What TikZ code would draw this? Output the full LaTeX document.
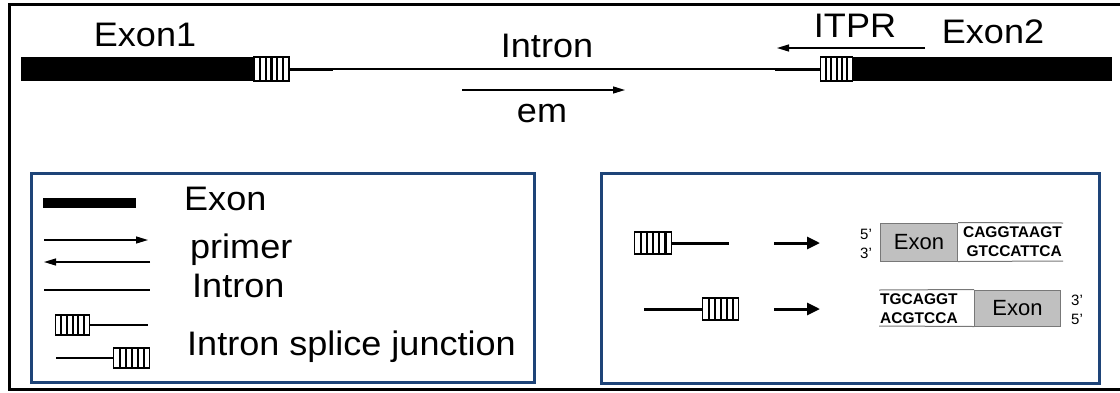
\documentclass[tikz,border=0pt]{standalone}
\usepackage{fontspec}
\setmainfont{Liberation Sans}
\newfontfamily\widefont[FakeStretch=1.06]{Liberation Sans}
\usetikzlibrary{arrows.meta,calc}
\definecolor{boxblue}{RGB}{30,68,120}
\definecolor{exgray}{RGB}{192,192,192}
\definecolor{exedge}{RGB}{120,120,120}
\begin{document}
\begin{tikzpicture}[x=1pt,y=-1pt,
  exonbar/.style={rectangle, fill=black, draw=none, inner sep=0, anchor=west, minimum height=24pt},
  hatch/.style 2 args={rectangle, draw, line width=1.2pt, fill=white, inner sep=0, anchor=west,
     minimum width=#1, minimum height=#2,
     path picture={\foreach \k in {1,...,5}{\draw[line width=2.2pt]
        ($(path picture bounding box.south west)!{\k/6}!(path picture bounding box.south east)$) --
        ($(path picture bounding box.north west)!{\k/6}!(path picture bounding box.north east)$);}}},
  thinline/.style={line width=1.3pt},
  jline/.style={line width=3pt},
  primer/.style={line width=1.3pt, -{Triangle[length=12pt,width=7pt]}},
  bigarrow/.style={line width=3pt, -{Triangle[length=13pt,width=12pt]}},
  bigtext/.style={font=\widefont\fontsize{34}{40}\selectfont, inner sep=0},
  legtext/.style={font=\widefont\fontsize{34}{40}\selectfont, inner sep=0, anchor=base west},
  legbox/.style={rectangle, draw=boxblue, line width=2.5pt, anchor=north west, inner sep=0},
  exonbox/.style={rectangle, fill=exgray, draw=exedge, line width=1pt, inner sep=0,
     font=\fontsize{22}{26}\selectfont},
  seqtext/.style={font=\bfseries\fontsize{15.5}{18}\selectfont, inner sep=0},
  primelab/.style={font=\fontsize{15}{18}\selectfont, inner sep=0}]
\clip (0,0) rectangle (1120,392);
\useasboundingbox (0,0) rectangle (1120,392);
\fill[white] (0,0) rectangle (1120,392);
% outer frame
\draw[line width=3pt] (1130,4) -- (9,4) -- (9,389) -- (1130,389);

% ---- gene structure ----
\node[exonbar, minimum width=232pt] (ex1) at (21,69) {};
\node[hatch={35pt}{24pt}] (h1) at (ex1.east) {};
\coordinate (j1) at (333,69);
\coordinate (j2) at (775,69);
\node[hatch={32pt}{24pt}] (h2) at (820,69) {};
\node[exonbar, minimum width=259pt] (ex2) at (h2.east) {};
\draw[jline] (h1.east) -- (j1);
\draw[thinline] (j1) -- (j2);
\draw[jline] (j2) -- (h2.west);

\node[bigtext] (tex1) at (145,35) {Exon1};
\node[bigtext] (tintron) at (547,46) {Intron};
\node[bigtext] (titpr) at (855,26) {ITPR};
\node[bigtext] (tex2) at (993,32) {Exon2};
\node[bigtext] (tem) at (542,114) {em};

\coordinate (ems) at (462,90);
\coordinate (eme) at (625,90);
\draw[primer] (ems) -- (eme);
\coordinate (its) at (925,48);
\coordinate (ite) at (777,48);
\draw[primer] (its) -- (ite);

% ---- legend box ----
\node[legbox, minimum width=503pt, minimum height=209pt] (lbox) at (30,172) {};
\node[exonbar, minimum width=93pt, minimum height=10pt] (lex) at (43,203) {};
\node[legtext] (tlex) at (184,210) {Exon};
\coordinate (p1s) at (44,240);
\coordinate (p1e) at (148,240);
\draw[primer] (p1s) -- (p1e);
\coordinate (p2s) at (150,262);
\coordinate (p2e) at (44,262);
\draw[primer] (p2s) -- (p2e);
\node[legtext] (tprimer) at (190,258) {primer};
\coordinate (li1) at (44,290);
\coordinate (li2) at (150,290);
\draw[thinline] (li1) -- (li2);
\node[legtext] (tlint) at (192,297) {Intron};
\node[hatch={34pt}{20pt}] (lh1) at (55,325) {};
\coordinate (lh1e) at (148,325);
\draw[jline, line width=2.5pt] (lh1.east) -- (lh1e);
\coordinate (lh2s) at (56,358);
\node[hatch={36pt}{20pt}] (lh2) at (113,358) {};
\draw[jline, line width=2.5pt] (lh2s) -- (lh2.west);
\node[legtext] (tsplice) at (187,355) {Intron splice junction};

% ---- right box ----
\node[legbox, minimum width=498pt, minimum height=210pt] (rbox) at (600,172) {};
\node[hatch={37pt}{22pt}] (rh1) at (634,243) {};
\coordinate (rl1) at (729,243);
\draw[jline] (rh1.east) -- (rl1);
\coordinate (ra1s) at (774,243);
\coordinate (ra1e) at (820,243);
\draw[bigarrow] (ra1s) -- (ra1e);
\node[primelab] (p5a) at (866,234) {5'};
\node[primelab] (p3a) at (866,253) {3'};
\node[exonbox, minimum width=77pt, minimum height=38pt, anchor=west] (gb1) at (880,242) {Exon};
\coordinate (s1t) at (1063,223);
\coordinate (s1b) at (1063,261);
\draw[exedge, line width=1pt] (gb1.north east) -- (s1t);
\draw[exedge, line width=1pt] (gb1.south east) -- (s1b);
\node[seqtext, anchor=east] (sq1) at (1062,232) {CAGGTAAGT};
\node[seqtext, anchor=east] (sq2) at (1062,251) {GTCCATTCA};

\coordinate (rl2) at (644,309);
\node[hatch={36pt}{22pt}] (rh2) at (702,309) {};
\draw[jline] (rl2) -- (rh2.west);
\coordinate (ra2s) at (774,309);
\coordinate (ra2e) at (820,309);
\draw[bigarrow] (ra2s) -- (ra2e);
\node[exonbox, minimum width=86pt, minimum height=36pt, anchor=west] (gb2) at (974,308) {Exon};
\coordinate (s2t) at (879,290);
\coordinate (s2b) at (879,326);
\draw[exedge, line width=1pt] (s2t) -- (gb2.north west);
\draw[exedge, line width=1pt] (s2b) -- (gb2.south west);
\node[seqtext, anchor=west] (sq3) at (880,299) {TGCAGGT};
\node[seqtext, anchor=west] (sq4) at (880,318) {ACGTCCA};
\node[primelab] (p3b) at (1077,300) {3'};
\node[primelab] (p5b) at (1077,319) {5'};
\end{tikzpicture}
\end{document}
